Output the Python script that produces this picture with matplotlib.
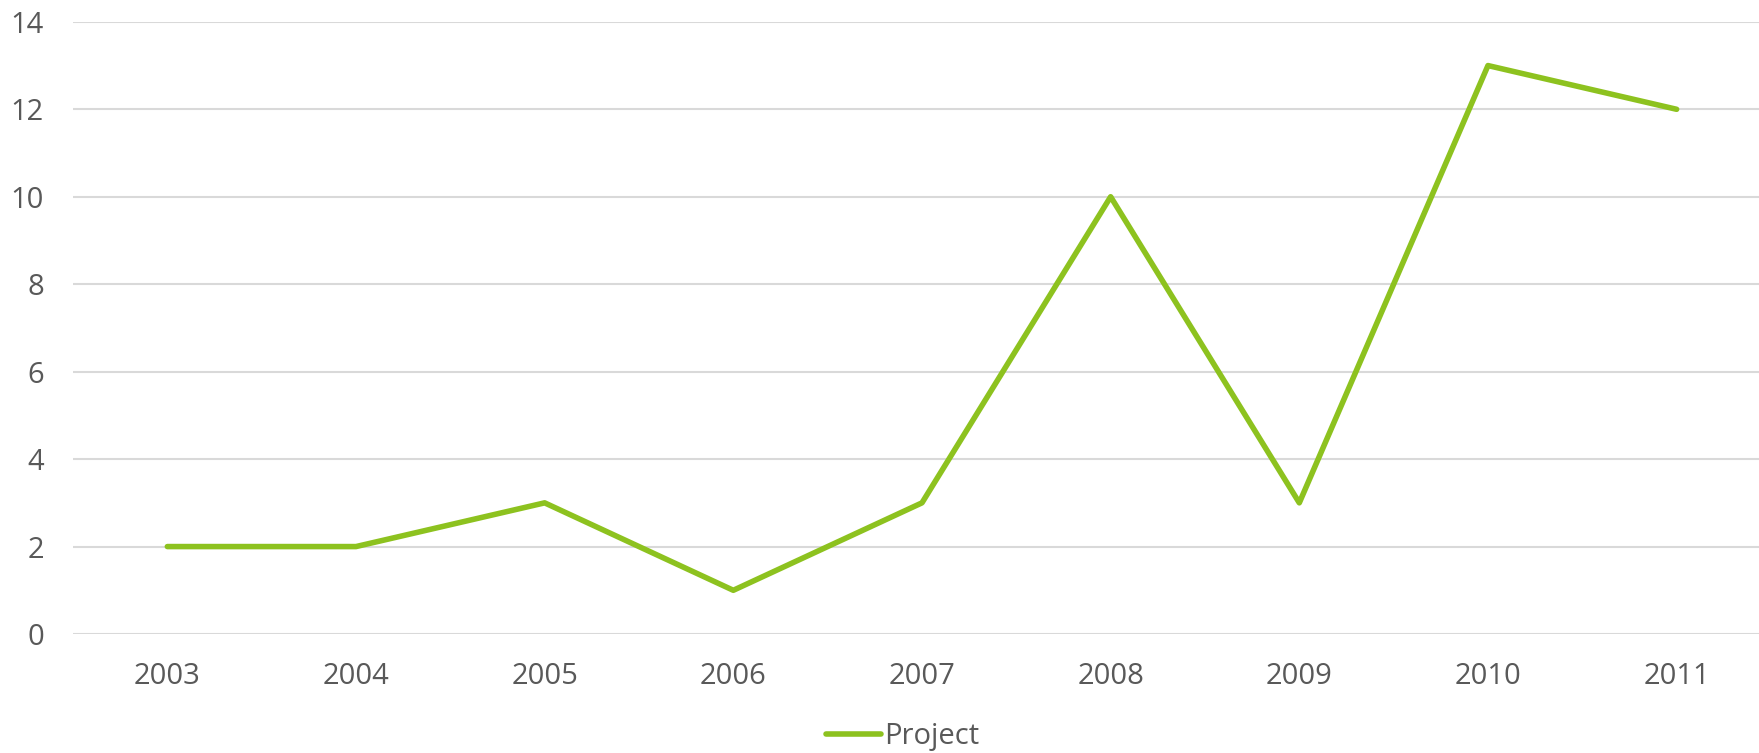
import matplotlib.pyplot as plt

years = ['2003', '2004', '2005', '2006', '2007', '2008', '2009', '2010', '2011']
project = [2, 2, 3, 1, 3, 10, 3, 13, 12]
y_ticks = [0, 2, 4, 6, 8, 10, 12, 14]

plt.rcParams['font.family'] = ['Open Sans', 'DejaVu Sans']

fig = plt.figure(figsize=(17.59, 7.53), dpi=100)
# plot area runs a little past the right edge, like the original
ax = fig.add_axes([0.0415, 0.158, 0.9653, 0.813])

x = range(len(years))
ax.plot(x, project, color='#8DC21F', linewidth=4.0, solid_capstyle='round',
        solid_joinstyle='round', label='Project', zorder=3)

ax.set_xlim(-0.5, len(years) - 0.5)
ax.set_ylim(0, 14)
ax.set_yticks(y_ticks)
ax.set_xticks(list(x))
ax.set_xticklabels(years)

ax.grid(axis='y', color='#D9D9D9', linewidth=1.5)
ax.set_axisbelow(True)
for s in ax.spines.values():
    s.set_visible(False)
ax.tick_params(axis='both', length=0, labelsize=21, colors='#595959')
ax.tick_params(axis='y', pad=21)
ax.tick_params(axis='x', pad=20)

leg = fig.legend(loc='lower center', bbox_to_anchor=(0.513, -0.032), frameon=False,
                 fontsize=21, handlelength=1.9, handletextpad=0.1)
for t in leg.get_texts():
    t.set_color('#595959')

fig.savefig('out.png', dpi=100)
